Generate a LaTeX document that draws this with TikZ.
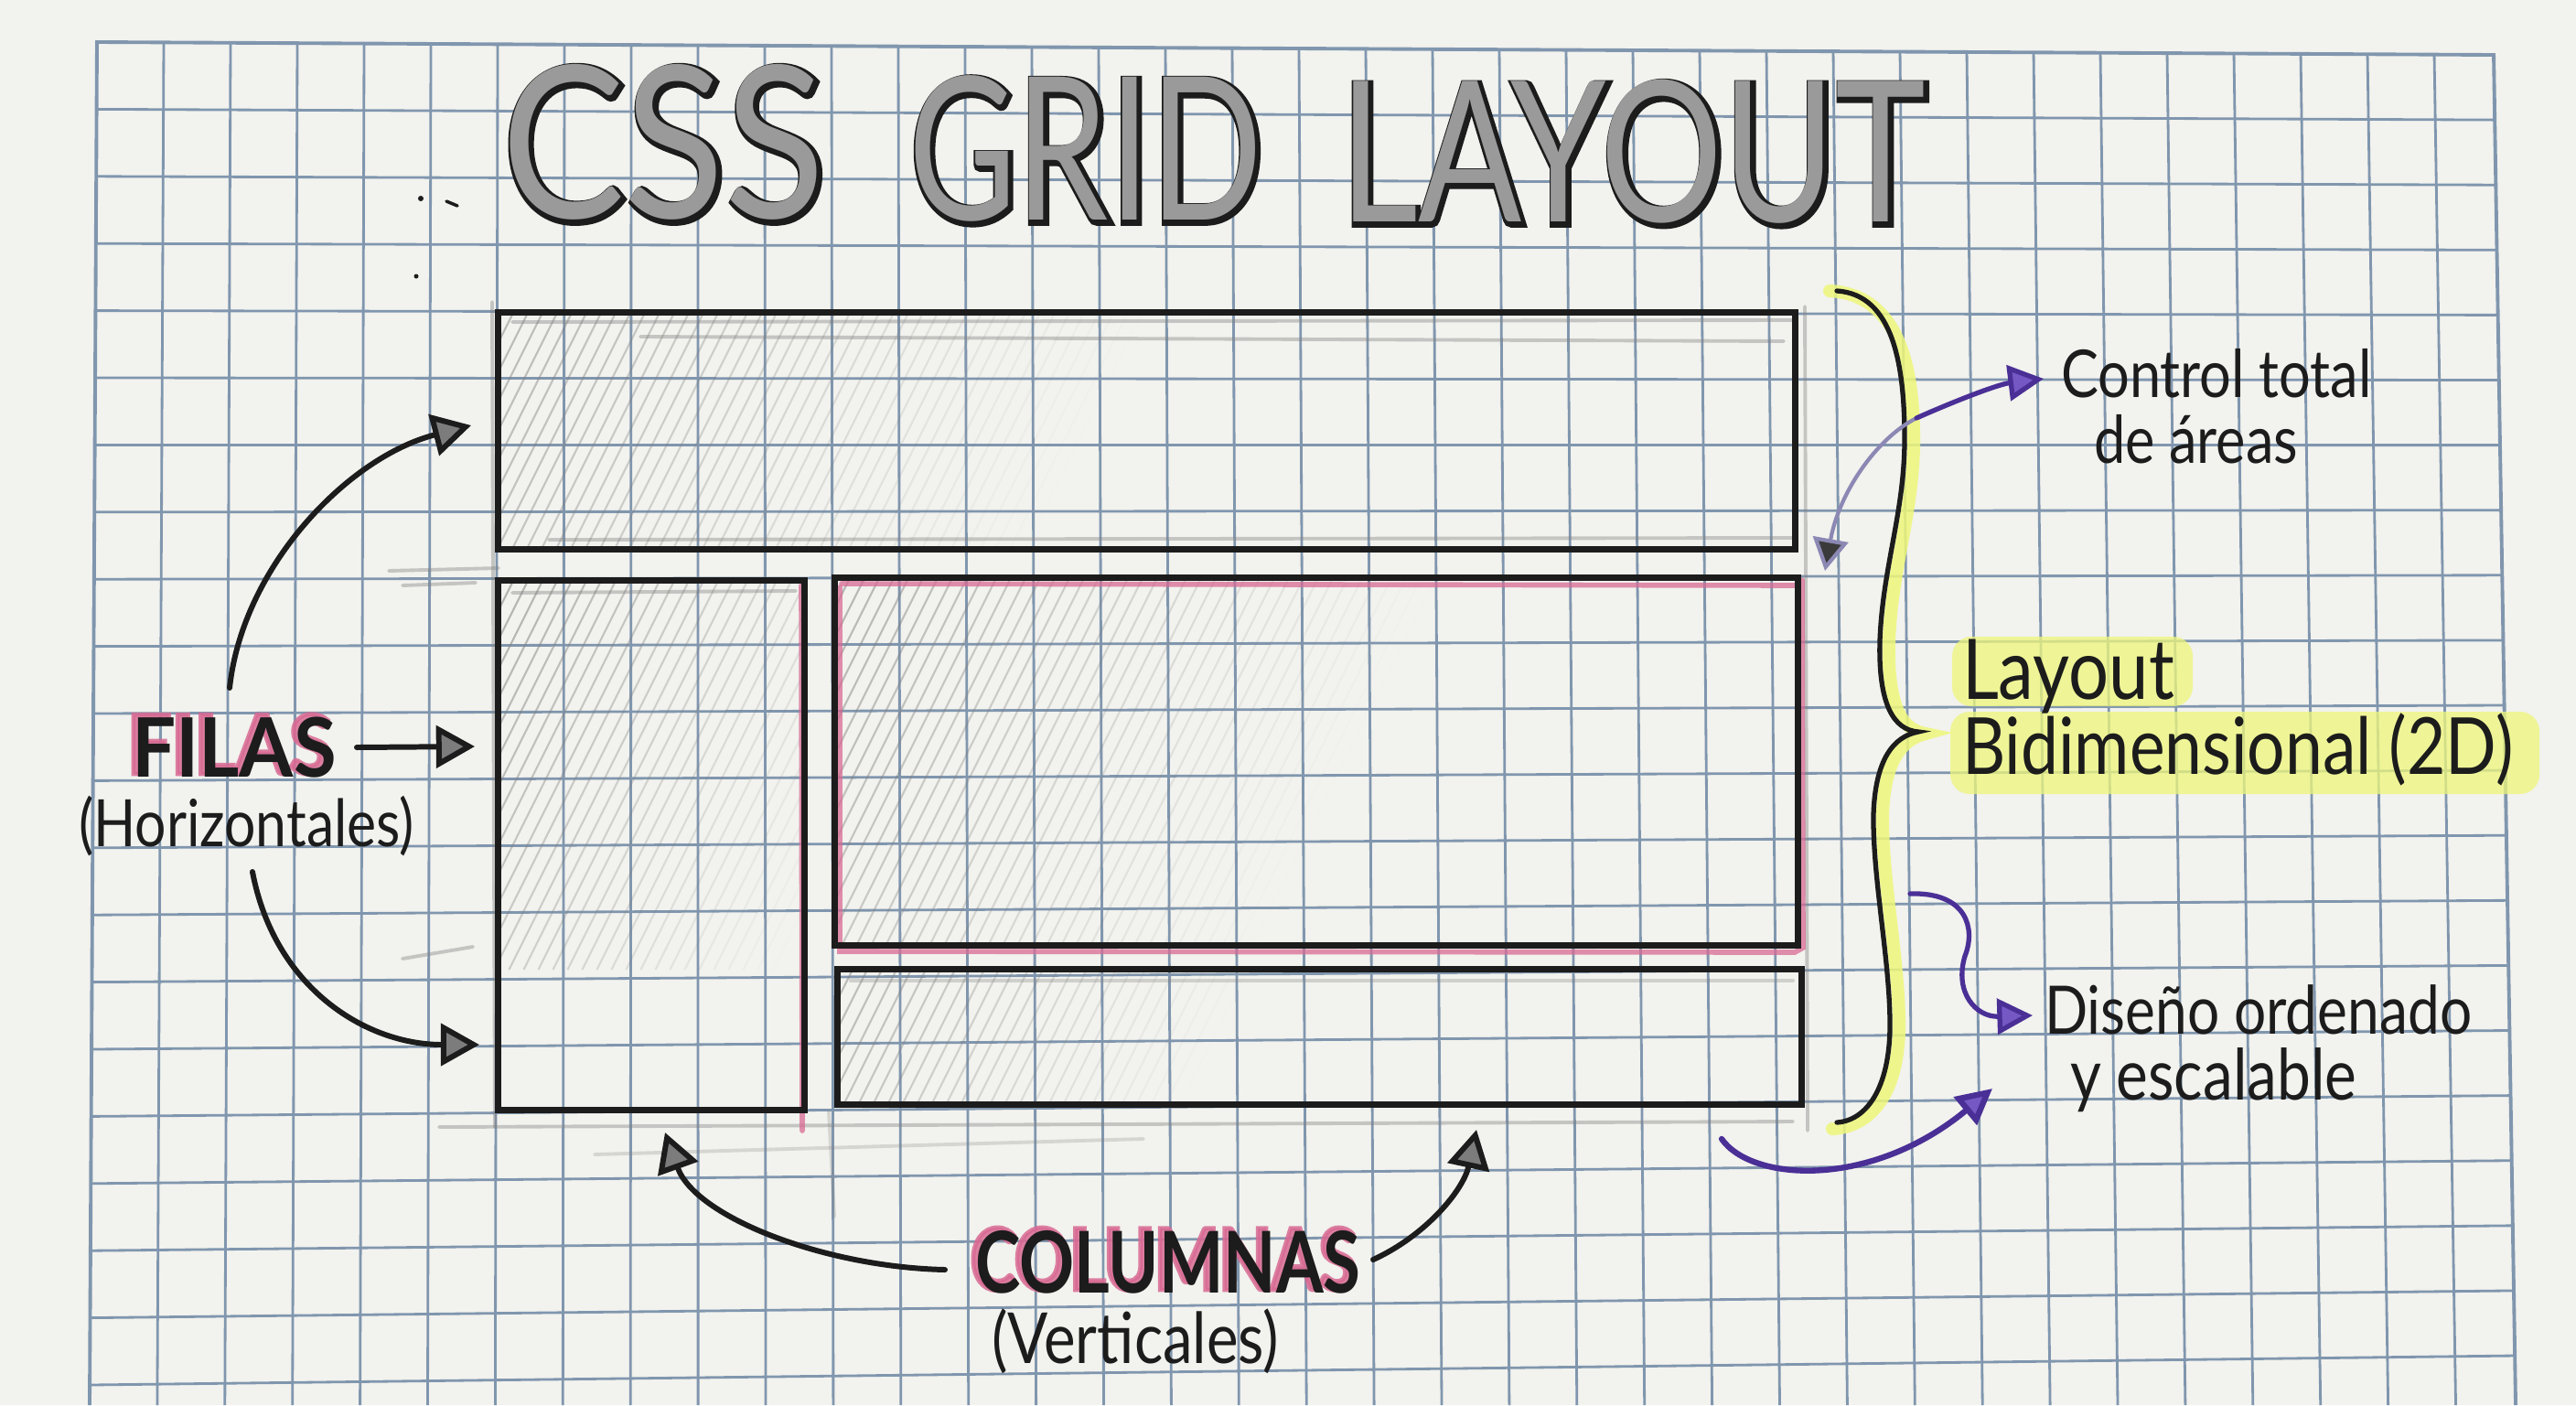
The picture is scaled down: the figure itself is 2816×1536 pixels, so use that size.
\documentclass[tikz,border=0pt]{standalone}
\usepackage{fontspec}
\setmainfont{Lato}
\newfontfamily\titlefA[FakeStretch=0.87]{Lato}
\newfontfamily\titlefB[FakeStretch=0.74]{Lato}
\newfontfamily\titlefC[FakeStretch=0.78]{Lato}
\newfontfamily\titleoA[FakeStretch=0.87,FakeBold=3.5]{Lato}
\newfontfamily\titleoB[FakeStretch=0.74,FakeBold=3.5]{Lato}
\newfontfamily\titleoC[FakeStretch=0.78,FakeBold=3.5]{Lato}
\newfontfamily\handf[FakeStretch=0.85]{Lato}
\newfontfamily\filasf[FakeStretch=0.95]{Lato}
\newfontfamily\filaspk[FakeStretch=0.95,FakeBold=5]{Lato}
\newfontfamily\columf[FakeStretch=0.8]{Lato}
\newfontfamily\columpk[FakeStretch=0.8,FakeBold=5]{Lato}
\usetikzlibrary{arrows.meta}

\definecolor{paper}{HTML}{F2F2EE}
\definecolor{gridc}{HTML}{8096AE}
\definecolor{ink}{HTML}{1C1C1C}
\definecolor{pencil}{HTML}{808080}
\definecolor{pinkc}{HTML}{D86A93}
\definecolor{purp}{HTML}{4A2F96}
\definecolor{purpfill}{HTML}{7658C4}
\definecolor{purpgray}{HTML}{8C88B4}
\definecolor{hl}{HTML}{EEF77A}
\definecolor{titlegray}{HTML}{9A9A9A}
\definecolor{headgray}{HTML}{7C7C7C}
\definecolor{darkhead}{HTML}{3A3A3A}

\tikzset{
  gridline/.style={draw=gridc, line width=0.8pt},
  gridborder/.style={draw=gridc, line width=1.1pt},
  layoutbox/.style={draw=ink, line width=2pt, rectangle, inner sep=0pt, outer sep=0pt},
  pencilline/.style={draw=pencil, line width=1.1pt, opacity=0.4, line cap=round},
  pinkline/.style={draw=pinkc, line width=1.6pt, opacity=0.75, line cap=round},
  lbl/.style={anchor=base west, inner sep=0pt, outer sep=0pt, text=ink},
  blkarrow/.style={draw=ink, line width=1.7pt, line cap=round, -{Triangle[length=12pt,width=13pt,fill=headgray]}},
  purparrow/.style={draw=purp, line width=1.5pt, line cap=round, -{Triangle[length=11pt,width=11pt,fill=purpfill]}},
}

% outlined title word: name, x, y, outline font, fill font, text
\newcommand\ttlword[6]{%
  \node[lbl, text=ink, font={#4}] (#1o) at (#2+2,#3+3) {#6};
  \node[lbl, text=titlegray, font={#5}] (#1) at (#2,#3) {#6};
}
% pink-haloed word: name, x, y, halo font, ink font, text
\newcommand\pinkword[6]{%
  \node[lbl, text=pinkc, opacity=0.85, font={#4}] (#1p) at (#2-5,#3-3) {#6};
  \node[lbl, font={#5}] (#1) at (#2,#3) {#6};
}
\newcommand\hatchbox[5]{%
  \begin{scope}
    \clip (#1,#2) rectangle (#3,#4);
    \pgfmathsetmacro\hh{#4-#2}
    \foreach \q in {0,...,70}{
      \pgfmathsetmacro\hx{#1-0.5*\hh+\q*16}
      \pgfmathsetmacro\op{max(0,0.45-0.45*((\hx-#1+0.25*\hh)/#5))}
      \draw[draw=pencil, line width=0.6pt, opacity=\op] (\hx,#4) -- (\hx+0.5*\hh,#2);
    }
  \end{scope}
}

\begin{document}
\begin{tikzpicture}[x=0.01cm, y=-0.01cm]
\useasboundingbox (0,0) rectangle (2816,1536);
\fill[paper] (0,0) rectangle (2816,1536);

% ---- grid paper ----
\foreach \k in {1,...,35}{
  \pgfmathsetmacro\xt{106+73*\k}
  \pgfmathsetmacro\yt{46+((\xt-106)/2620)*14}
  \pgfmathsetmacro\xb{98+73.9*\k}
  \draw[gridline] (\xt,\yt) -- (\xb,1536);
}
\foreach \j in {1,...,20}{
  \pgfmathsetmacro\yl{46+73.4*\j}
  \pgfmathsetmacro\yr{60+71.1*\j}
  \pgfmathsetmacro\xl{106-((\yl-46)/1490)*8}
  \pgfmathsetmacro\xr{2726+((\yr-60)/1476)*24}
  \draw[gridline] (\xl,\yl) -- (\xr,\yr);
}
\draw[gridborder] (98,1536) -- (106,46) -- (2726,60) -- (2750,1536);

% ---- title ----
\ttlword{tCSS}{548}{238}{\titleoA\fontsize{66}{70}\selectfont}{\titlefA\fontsize{66}{70}\selectfont}{CSS}
\ttlword{tGRID}{993}{240}{\titleoB\fontsize{62}{66}\selectfont}{\titlefB\fontsize{62}{66}\selectfont}{GRID}
\ttlword{tLAYOUT}{1464}{242}{\titleoC\fontsize{61}{66}\selectfont}{\titlefC\fontsize{61}{66}\selectfont}{LAYOUT}
\fill[ink] (460,217) circle (3);
\draw[ink, line width=1pt, line cap=round] (488,220) -- (500,225);
\fill[ink] (455,302) circle (2.5);

% ---- pencil construction lines ----
\draw[pencilline] (560,352) -- (1960,350);
\draw[pencilline] (700,368) -- (1950,373);
\draw[pencilline] (600,590) -- (1960,588);
\draw[pencilline] (538,330) -- (541,1232);
\draw[pencilline] (1973,335) -- (1976,1236);
\draw[pencilline] (425,624) -- (545,621);
\draw[pencilline] (440,640) -- (520,637);
\draw[pencilline] (560,648) -- (870,646);
\draw[pencilline] (440,1048) -- (517,1035);
\draw[pencilline] (480,1232) -- (1960,1226);
\draw[pencilline, opacity=0.25] (650,1262) -- (1250,1245);
\draw[pencilline, opacity=0.25] (906,1215) -- (912,1330);
\draw[pencilline, opacity=0.3] (930,1072) -- (1960,1072);

% ---- hatching ----
\hatchbox{545}{342}{1962}{600}{650}
\hatchbox{545}{635}{879}{1060}{420}
\hatchbox{913}{632}{1965}{1033}{560}
\hatchbox{916}{1060}{1969}{1207}{420}

% ---- pink marks ----
\draw[pinkline] (918,642) -- (918,1040) -- (1962,1041) -- (1971,1036) -- (1970,634);
\draw[pinkline] (920,638) -- (1966,640);
\draw[pinkline] (876,640) -- (877,1236);

% ---- layout boxes ----
\node[layoutbox, minimum width=14.17cm, minimum height=2.58cm] (header) at (1253.5,471) {};
\node[layoutbox, minimum width=3.34cm, minimum height=5.78cm] (sidebar) at (712,924) {};
\node[layoutbox, minimum width=10.52cm, minimum height=4.01cm] (main) at (1439,832.5) {};
\node[layoutbox, minimum width=10.53cm, minimum height=1.47cm] (footer) at (1442.5,1133.5) {};

% ---- FILAS ----
\pinkword{filas}{144}{849}{\filaspk\bfseries\fontsize{25.5}{29}\selectfont}{\filasf\bfseries\fontsize{25.5}{29}\selectfont}{FILAS}
\node[lbl, font={\handf\fontsize{20.3}{24}\selectfont}] (horiz) at (86,925) {(Horizontales)};
\coordinate (fa0) at (390,817);  \coordinate (fa1) at (519,816);
\coordinate (fu0) at (251,752);  \coordinate (fu1) at (515,465);
\coordinate (fl0) at (276,953);  \coordinate (fl1) at (524,1142);
\draw[blkarrow] (fa0) -- (fa1);
\draw[blkarrow] (fu0) .. controls (265,620) and (380,500) .. (fu1);
\draw[blkarrow] (fl0) .. controls (300,1080) and (400,1142) .. (fl1);

% ---- COLUMNAS ----
\pinkword{colum}{1066}{1413}{\columpk\bfseries\fontsize{26.5}{30}\selectfont}{\columf\bfseries\fontsize{26.5}{30}\selectfont}{COLUMNAS}
\node[lbl, font={\handf\fontsize{21.9}{25}\selectfont}] (vert) at (1084,1490) {(Verticales)};
\coordinate (cl0) at (1033,1388); \coordinate (cl1) at (727,1238);
\coordinate (cr0) at (1501,1377); \coordinate (cr1) at (1614,1235);
\draw[blkarrow] (cl0) .. controls (900,1385) and (760,1330) .. (cl1);
\draw[blkarrow] (cr0) .. controls (1560,1350) and (1600,1300) .. (cr1);

% ---- brace ----
\draw[hl, line width=4pt, opacity=0.85, line cap=round]
  (2000,318) .. controls (2075,322) and (2092,400) .. (2092,480)
  .. controls (2092,560) and (2068,620) .. (2065,700)
  .. controls (2063,770) and (2078,798) .. (2105,802)
  .. controls (2080,808) and (2060,830) .. (2058,890)
  .. controls (2057,960) and (2076,1050) .. (2076,1120)
  .. controls (2076,1195) and (2045,1232) .. (2003,1234);
\coordinate (brtop) at (2008,318);
\coordinate (brbot) at (2008,1227);
\draw[ink, line width=1.5pt, line cap=round]
  (brtop) .. controls (2070,322) and (2082,400) .. (2082,480)
  .. controls (2082,560) and (2058,620) .. (2055,700)
  .. controls (2053,770) and (2070,798) .. (2097,800)
  .. controls (2070,805) and (2050,830) .. (2048,890)
  .. controls (2047,960) and (2066,1050) .. (2066,1120)
  .. controls (2066,1190) and (2040,1225) .. (brbot);

% ---- Layout Bidimensional ----
\fill[hl, opacity=0.75, rounded corners=6] (2134,696) rectangle (2397,772);
\fill[hl, opacity=0.75, rounded corners=6] (2132,778) rectangle (2776,868);
\node[lbl, font={\handf\fontsize{26}{30}\selectfont}] (layout) at (2145,764) {Layout};
\node[lbl, font={\handf\fontsize{24.5}{28}\selectfont}] (bidim) at (2145,846) {Bidimensional (2D)};

% ---- right notes ----
\node[lbl, font={\handf\fontsize{20.5}{24}\selectfont}] (control) at (2253,434) {Control total};
\node[lbl, font={\handf\fontsize{20.5}{24}\selectfont}] (areas) at (2289,506) {de áreas};
\node[lbl, font={\handf\fontsize{20.8}{24}\selectfont}] (diseno) at (2235,1130) {Diseño ordenado};
\node[lbl, font={\handf\fontsize{22}{26}\selectfont}] (escal) at (2263,1202) {y escalable};

% ---- purple arrows ----
\coordinate (ca0) at (1995,624); \coordinate (cam) at (2095,457); \coordinate (ca1) at (2234,414);
\draw[draw=purpgray, line width=1.2pt, {Triangle[length=10pt,width=11pt,fill=darkhead]}-]
  (ca0) .. controls (2010,540) and (2050,480) .. (cam);
\draw[purparrow] (cam) .. controls (2140,437) and (2185,420) .. (ca1);
\coordinate (da0) at (2088,977); \coordinate (da1) at (2222,1110);
\draw[purparrow] (da0) .. controls (2150,975) and (2160,1015) .. (2148,1045)
  .. controls (2136,1085) and (2160,1112) .. (da1);
\coordinate (ba0) at (1882,1245); \coordinate (ba1) at (2178,1190);
\draw[purparrow, line width=1.8pt] (ba0) .. controls (1915,1292) and (2045,1300) .. (ba1);
\end{tikzpicture}
\end{document}
